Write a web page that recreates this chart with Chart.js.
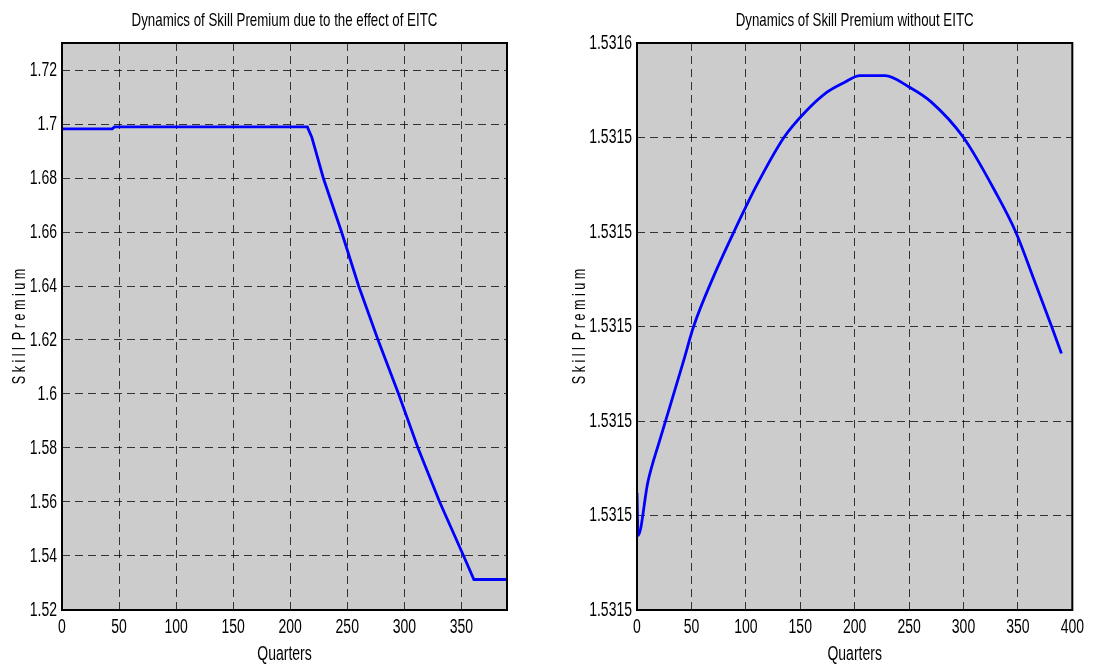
<!DOCTYPE html>
<html>
<head>
<meta charset="utf-8">
<script src="https://cdn.jsdelivr.net/npm/chart.js@4.4.1/dist/chart.umd.min.js"></script>
<style>
  html, body { margin: 0; padding: 0; background: #fff; }
  #wrap { position: relative; width: 1096px; height: 666px; overflow: hidden; }
  canvas { position: absolute; top: 0; }
</style>
</head>
<body>
<div id="wrap">
  <canvas id="leftChart" width="548" height="666" style="left:0;width:548px;height:666px"></canvas>
  <canvas id="rightChart" width="548" height="666" style="left:548px;width:548px;height:666px"></canvas>
</div>
<script>
// ---- data ----
// left panel: skill premium with the EITC
const leftQuarters = [0, 44, 46, 215, 219, 223, 229, 245, 260, 277, 295, 312, 331, 352, 361, 390];
const leftPremium = [1.6982, 1.6982, 1.6989, 1.6989, 1.695, 1.689, 1.68, 1.66, 1.64, 1.62, 1.60, 1.58, 1.56, 1.54, 1.5313, 1.5313];
const leftXTicks = [0, 50, 100, 150, 200, 250, 300, 350];
const leftYTicks = [1.52, 1.54, 1.56, 1.58, 1.6, 1.62, 1.64, 1.66, 1.68, 1.7, 1.72];
const leftYLabels = ["1.52", "1.54", "1.56", "1.58", "1.6", "1.62", "1.64", "1.66", "1.68", "1.7", "1.72"];

// right panel: skill premium without the EITC
const rightQuarters = [0, 1, 10, 21, 32, 43, 52, 70, 89, 110, 135, 155, 174, 190, 205, 228, 250, 270, 300, 330, 348, 365, 381, 390];
const rightPremium = [1.5315048, 1.5314958, 1.5315071, 1.531516, 1.5315244, 1.5315329, 1.53154, 1.5315504, 1.53156,
  1.5315699, 1.53158, 1.5315855, 1.5315895, 1.5315916, 1.5315931, 1.5315931, 1.5315907, 1.5315876, 1.53158,
  1.5315682, 1.53156, 1.5315498, 1.53154, 1.5315343];
const rightXTicks = [0, 50, 100, 150, 200, 250, 300, 350, 400];
const rightYTicks = [1.53148, 1.5315, 1.53152, 1.53154, 1.53156, 1.53158, 1.5316];
const rightYLabels = ["1.5315", "1.5315", "1.5315", "1.5315", "1.5315", "1.5315", "1.5316"];

const fontFamily = "'Liberation Sans', Arial, Helvetica, sans-serif";
const squeeze = 0.7; // the figure text is horizontally condensed

// draw every text horizontally condensed, like the exported figure
const origFillText = CanvasRenderingContext2D.prototype.fillText;
CanvasRenderingContext2D.prototype.fillText = function (text, x, y, maxWidth) {
  this.save();
  this.translate(x, y);
  this.scale(squeeze, 1);
  if (maxWidth === undefined) origFillText.call(this, text, 0, 0);
  else origFillText.call(this, text, 0, 0, maxWidth / squeeze);
  this.restore();
};

// grey axes background, black box and the title centred on the plot
const matlabAxes = {
  id: "matlabAxes",
  beforeDraw(chart) {
    const { ctx, chartArea: a } = chart;
    ctx.save();
    ctx.fillStyle = "#fff";
    ctx.fillRect(0, 0, chart.width, chart.height);
    ctx.fillStyle = "#cccccc";
    ctx.fillRect(a.left, a.top, a.right - a.left, a.bottom - a.top);
    ctx.restore();
  },
  afterDraw(chart, args, opts) {
    const { ctx, chartArea: a } = chart;
    ctx.save();
    ctx.strokeStyle = "#000";
    ctx.lineWidth = 2;
    ctx.strokeRect(a.left, a.top, a.right - a.left, a.bottom - a.top);
    ctx.fillStyle = "#000";
    ctx.font = "19px " + fontFamily;
    ctx.textAlign = "center";
    ctx.textBaseline = "middle";
    ctx.fillText(opts.text, (a.left + a.right) / 2, 21);
    ctx.restore();
  },
};

function makeChart(id, title, xs, ys, smooth, xMax, xTicks, yMin, yMax, yTicks, yLabels, yWidth, yTitlePad, rightPad) {
  const ctx = document.getElementById(id).getContext("2d");
  const points = xs.map((x, i) => ({ x: x, y: ys[i] }));
  return new Chart(ctx, {
    type: "line",
    data: {
      datasets: [
        {
          data: points,
          borderColor: "#0000ff",
          borderWidth: 2.8,
          pointRadius: 0,
          tension: 0,
          cubicInterpolationMode: smooth ? "monotone" : "default",
          fill: false,
        },
      ],
    },
    options: {
      responsive: false,
      animation: false,
      devicePixelRatio: 1,
      layout: { padding: { top: 43, right: rightPad, bottom: 0, left: 0 } },
      plugins: {
        legend: { display: false },
        tooltip: { enabled: false },
        matlabAxes: { text: title },
      },
      scales: {
        x: {
          type: "linear",
          min: 0,
          max: xMax,
          afterBuildTicks: (s) => { s.ticks = xTicks.map((v) => ({ value: v })); },
          afterFit: (s) => { s.height = 56; },
          grid: { color: "rgba(0,0,0,0.75)", lineWidth: 1, drawTicks: false },
          border: { display: false, dash: [8, 5] },
          ticks: {
            color: "#000",
            font: { family: fontFamily, size: 20, lineHeight: 1 },
            padding: 7,
            maxRotation: 0,
            autoSkip: false,
            callback: (v) => String(v),
          },
          title: {
            display: true,
            text: "Quarters",
            color: "#000",
            font: { family: fontFamily, size: 20, lineHeight: 1 },
            padding: { top: 0, bottom: 2 },
          },
        },
        y: {
          type: "linear",
          min: yMin,
          max: yMax,
          afterBuildTicks: (s) => { s.ticks = yTicks.map((v) => ({ value: v })); },
          afterFit: (s) => { s.width = yWidth; },
          grid: { color: "rgba(0,0,0,0.75)", lineWidth: 1, drawTicks: false },
          border: { display: false, dash: [8, 5] },
          ticks: {
            color: "#000",
            font: { family: fontFamily, size: 20, lineHeight: 1 },
            padding: 5,
            autoSkip: false,
            callback: (v, i) => yLabels[i],
          },
          title: {
            display: true,
            text: "S k i l l  P r e m i u m",
            color: "#000",
            font: { family: fontFamily, size: 18, lineHeight: 1 },
            padding: { top: yTitlePad, bottom: 0 },
          },
        },
      },
    },
    plugins: [matlabAxes],
  });
}

makeChart("leftChart", "Dynamics of Skill Premium due to the effect of EITC",
  leftQuarters, leftPremium, false, 390, leftXTicks, 1.52, 1.73, leftYTicks, leftYLabels, 62, 11, 41);

makeChart("rightChart", "Dynamics of Skill Premium without EITC",
  rightQuarters, rightPremium, true, 400, rightXTicks, 1.53148, 1.5316, rightYTicks, rightYLabels, 89, 23, 16);
</script>
</body>
</html>
